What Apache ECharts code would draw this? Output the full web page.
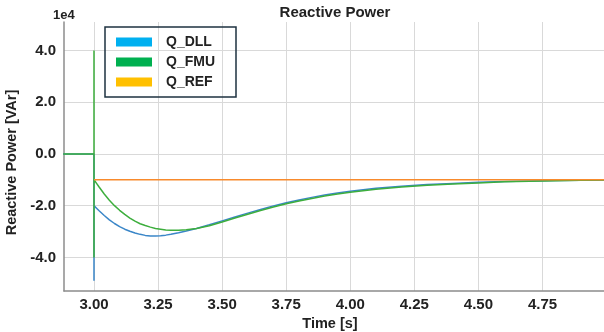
<!DOCTYPE html>
<html>
<head>
<meta charset="utf-8">
<script src="https://cdn.jsdelivr.net/npm/echarts@6/dist/echarts.min.js"></script>
<style>
html,body{margin:0;padding:0;background:#fff;}
#c{width:604px;height:332px;}
</style>
</head>
<body>
<div id="c"></div>
<script>
// Time axis (s); repeated 3.0 entries describe the switching spike
var time = [2.88, 3.0, 3.0, 3.0, 3.0, 3.01, 3.02, 3.04, 3.06, 3.08, 3.10, 3.12, 3.14, 3.16, 3.18, 3.20, 3.22, 3.24, 3.26, 3.28, 3.30, 3.33, 3.36, 3.40, 3.45, 3.50, 3.55, 3.60, 3.65, 3.70, 3.75, 3.80, 3.85, 3.90, 3.95, 4.00, 4.10, 4.20, 4.30, 4.40, 4.50, 4.60, 4.70, 4.80, 4.90, 5.00];
// values in units of 1e4 VAr
var qDLL = [0, 0, 0, -4.9, -2.0, -2.10, -2.20, -2.38, -2.55, -2.69, -2.81, -2.91, -2.99, -3.06, -3.11, -3.15, -3.17, -3.17, -3.16, -3.14, -3.11, -3.05, -2.98, -2.88, -2.74, -2.59, -2.44, -2.29, -2.15, -2.01, -1.89, -1.78, -1.68, -1.59, -1.51, -1.44, -1.33, -1.25, -1.18, -1.14, -1.10, -1.07, -1.05, -1.03, -1.02, -1.01];
var qFMU = [0, 0, 4.0, -4.0, -1.0, -1.14, -1.28, -1.55, -1.79, -2.00, -2.18, -2.34, -2.48, -2.60, -2.70, -2.77, -2.83, -2.88, -2.91, -2.94, -2.95, -2.95, -2.93, -2.88, -2.78, -2.63, -2.48, -2.33, -2.19, -2.05, -1.93, -1.82, -1.72, -1.63, -1.55, -1.48, -1.37, -1.28, -1.21, -1.16, -1.12, -1.08, -1.06, -1.04, -1.02, -1.01];
var refTime = [3.0, 5.0];
var qREF = [-1.0, -1.0];
var xTicks = [3.0, 3.25, 3.5, 3.75, 4.0, 4.25, 4.5, 4.75];
var yTicks = [-4, -2, 0, 2, 4];
var seriesNames = ['Q_DLL', 'Q_FMU', 'Q_REF'];

function pairs(t, v) { var out = []; for (var i = 0; i < t.length; i++) out.push([t[i], v[i]]); return out; }

var FONT = 'Liberation Sans, Arial, sans-serif';
var chart = echarts.init(document.getElementById('c'), null, {renderer: 'canvas'});
chart.setOption({
  animation: false,
  backgroundColor: '#ffffff',
  title: {
    text: 'Reactive Power', left: 330, top: 0, textAlign: 'center',
    textStyle: {fontFamily: FONT, fontSize: 15, fontWeight: 'bold', color: '#222'}
  },
  legend: {
    orient: 'vertical', left: 105, top: 27,
    data: seriesNames.map(function (n) { return {name: n, icon: 'rect'}; }),
    itemWidth: 36, itemHeight: 9, itemGap: 6,
    padding: [8, 21, 8, 11],
    borderColor: '#1e3240', borderWidth: 1.5, borderRadius: 0,
    textStyle: {fontFamily: FONT, fontSize: 14, fontWeight: 'bold', color: '#222', lineHeight: 14, padding: [0, 0, 0, 9]}
  },
  grid: {left: 64, right: 0, top: 22, bottom: 41, containLabel: false, outerBoundsMode: 'none'},
  xAxis: {
    type: 'value', min: 2.883, max: 4.99,
    name: 'Time [s]', nameLocation: 'middle', nameGap: 23,
    nameTextStyle: {fontFamily: FONT, fontSize: 14.5, fontWeight: 'bold', color: '#222', padding: [0, 8, 0, 0]},
    axisLine: {show: true, onZero: false, lineStyle: {color: '#8c8c8c', width: 1.5}},
    axisTick: {show: false, customValues: xTicks},
    axisLabel: {customValues: xTicks, fontFamily: FONT, fontSize: 15, fontWeight: 'bold', color: '#222', margin: 6,
      formatter: function (v) { return v.toFixed(2); }},
    splitLine: {show: true, customValues: xTicks, lineStyle: {color: '#d9d9d9', width: 1}}
  },
  yAxis: {
    type: 'value', min: -5.3, max: 5.1,
    name: 'Reactive Power [VAr]', nameLocation: 'middle', nameGap: 40, nameRotate: 90,
    nameTextStyle: {fontFamily: FONT, fontSize: 14.5, fontWeight: 'bold', color: '#222', padding: [0, 12, 0, 0]},
    axisLine: {show: true, onZero: false, lineStyle: {color: '#8c8c8c', width: 1.5}},
    axisTick: {show: false, customValues: yTicks},
    axisLabel: {customValues: yTicks, fontFamily: FONT, fontSize: 15, fontWeight: 'bold', color: '#222', margin: 8,
      formatter: function (v) { return v.toFixed(1); }},
    splitLine: {show: true, customValues: yTicks, lineStyle: {color: '#d9d9d9', width: 1}}
  },
  graphic: [{
    type: 'text', left: 53, top: 9,
    style: {text: '1e4', font: 'bold 13px ' + FONT, fill: '#222'}
  }],
  series: [
    {name: seriesNames[0], type: 'line', data: pairs(time, qDLL), showSymbol: false, symbol: 'none',
      itemStyle: {color: '#00b0f0'}, lineStyle: {color: '#3a86c8', width: 1.5}, z: 2},
    {name: seriesNames[1], type: 'line', data: pairs(time, qFMU), showSymbol: false, symbol: 'none',
      itemStyle: {color: '#00b050'}, lineStyle: {color: '#3dae3d', width: 1.5}, z: 3},
    {name: seriesNames[2], type: 'line', data: pairs(refTime, qREF), showSymbol: false, symbol: 'none',
      itemStyle: {color: '#ffc000'}, lineStyle: {color: '#f88a2c', width: 1.5}, z: 4}
  ]
});
</script>
</body>
</html>
